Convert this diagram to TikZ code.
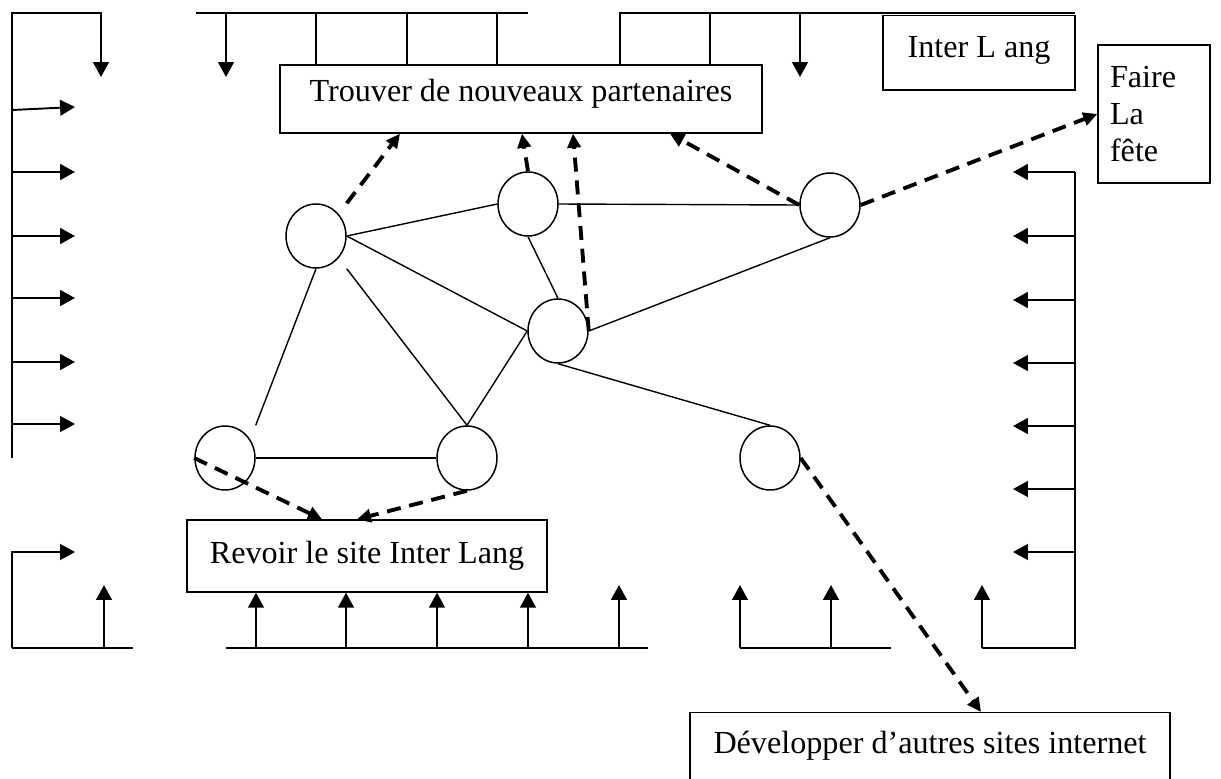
\documentclass[tikz,border=0pt]{standalone}
\usepackage{fontspec}
\setmainfont{Liberation Serif}
\usetikzlibrary{shapes.geometric}
\usetikzlibrary{arrows.meta}
\usetikzlibrary{calc}

\begin{document}
\begin{tikzpicture}[x=0.02cm, y=-0.02cm,
	font=\fontsize{18.3}{21}\selectfont,
	frame/.style={line width=1.1pt},
	fleche/.style={frame, -{Triangle[length=8.5pt,width=9pt]}},
	lien/.style={line width=0.8pt},
	pointille/.style={line width=2.2pt, dash pattern=on 8pt off 5pt, -{Triangle[length=8pt,width=7.5pt]}},
	rond/.style={draw, ellipse, line width=0.85pt, minimum width=1.2cm, minimum height=1.28cm, inner sep=0pt},
	boite/.style={draw, rectangle, line width=0.8pt, inner sep=0pt}]

	\useasboundingbox (0,0) rectangle (1221,778);

	\node[boite, minimum width=9.64cm, minimum height=1.36cm, text height=0.72cm, text depth=0.64cm] (trouver) at (521,99) {Trouver de nouveaux partenaires};
	\node[boite, minimum width=7.2cm, minimum height=1.44cm] (revoir) at (367,556) {Revoir le site Inter Lang};
	\node[boite, minimum width=3.84cm, minimum height=1.5cm, text height=0.84cm, text depth=0.66cm] (interlang) at (979,52.7) {Inter L ang\hspace{0.6cm}};
	\node[boite, minimum width=2.24cm, minimum height=2.76cm, align=left, text width=1.76cm, inner xsep=0.24cm] (faire) at (1154,114) {Faire\\La\\fête};
	\node[boite, minimum width=9.6cm, minimum height=1.8cm, text height=0.82cm, text depth=0.98cm, anchor=north] (developper) at (930,712) {Développer d’autres sites internet};

	\node[rond] (A) at (316,236) {};
	\node[rond] (B) at (528,204) {};
	\node[rond] (C) at (830,205) {};
	\node[rond] (D) at (558,331) {};
	\node[rond] (E) at (225,458) {};
	\node[rond] (F) at (467,458) {};
	\node[rond] (G) at (770,458) {};

	\draw[lien] (A.east) -- (B.west);
	\draw[lien] (A.east) -- (D.west);
	\draw[lien] (A.east |- A.south) -- (F.north);
	\draw[lien] (A.south) -- (E.east |- E.north);
	\draw[lien] (B.east) -- (C.west);
	\draw[lien] (B.south) -- (D.north);
	\draw[lien] (D.east) -- (C.south);
	\draw[lien] (D.west) -- (F.north);
	\draw[lien] (D.south) -- (G.north);
	\draw[lien] (E.east) -- (F.west);

	\draw[pointille] (A.east |- A.north) -- (400,0 |- trouver.south);
	\draw[pointille] (B.north) -- (522,0 |- trouver.south);
	\draw[pointille] (D.east) -- (573,0 |- trouver.south);
	\draw[pointille] (C.west) -- (670,0 |- trouver.south);
	\draw[pointille] (C.east) -- (faire.west);
	\draw[pointille] (E.west) -- (322,0 |- revoir.north);
	\draw[pointille] (F.south) -- (357,0 |- revoir.north);
	\draw[pointille] (G.east) -- (981,0 |- developper.north);

	\draw[fleche] (12,458) -- (12,13) -- (101,13) -- (101,77);
	\draw[fleche] (12,110) -- (75,107);
	\foreach \y in {172,236,298,362,424}
		\draw[fleche] (12,\y) -- (75,\y);

	\draw[frame] (196,13) -- (528,13);
	\draw[fleche] (226,13) -- (226,77);
	\foreach \x in {316,407,497}
		\draw[frame] (\x,13) -- (\x,0 |- trouver.north);

	\draw[frame] (620,0 |- trouver.north) -- (620,13) -- (1075,13);
	\draw[frame] (710,13) -- (710,0 |- trouver.north);
	\draw[fleche] (800,13) -- (800,77);

	\draw[frame] (1075,172) -- (1075,648) -- (982,648);
	\draw[fleche] (982,648) -- (982,585);
	\foreach \y in {172,236,300,363,426,489,552}
		\draw[fleche] (1075,\y) -- (1013,\y);

	\draw[frame] (133,648) -- (12,648);
	\draw[fleche] (12,648) -- (12,552) -- (75,552);
	\draw[fleche] (104,648) -- (104,585);
	\draw[frame] (226,648) -- (648,648);
	\foreach \x in {256,346,437,528}
		\draw[fleche] (\x,648) -- (\x,0 |- revoir.south);
	\draw[fleche] (619,648) -- (619,585);
	\draw[frame] (891,648) -- (740,648);
	\draw[fleche] (740,648) -- (740,585);
	\draw[fleche] (831,648) -- (831,585);
\end{tikzpicture}
\end{document}
